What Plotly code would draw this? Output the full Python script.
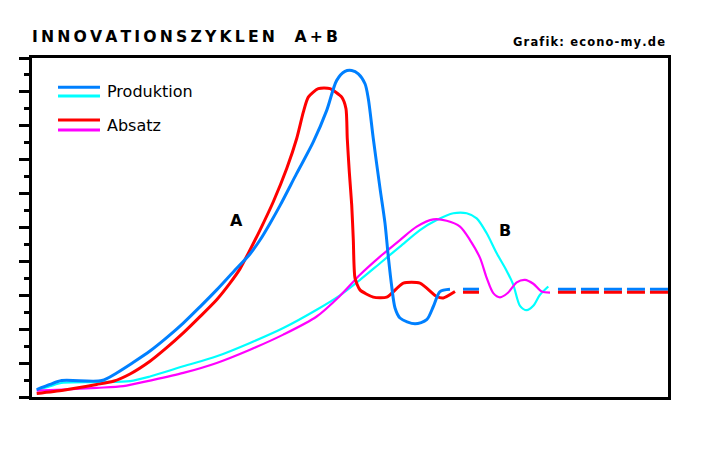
import plotly.graph_objects as go

# time axis 0..100, level axis 0..20
prod_a_t = [0.74, 2.83, 4.67, 10.96, 13.32, 15.88, 18.55, 21.18, 23.79, 26.41, 29.04, 31.65, 34.28,
            35.85, 37.42, 38.99, 41.62, 44.23, 46.34, 47.91, 49.21, 50.27, 51.31, 52.36, 52.88, 53.66,
            54.72, 55.5, 56.02, 56.56, 57.08, 57.86, 60.22, 62.06, 63.10, 64.15, 65.72]
prod_a_y = [0.44, 0.74, 0.97, 0.97, 1.42, 2.03, 2.71, 3.5, 4.36, 5.32, 6.32, 7.38, 8.44,
            9.26, 10.24, 11.29, 13.19, 15.05, 16.91, 18.68, 19.21, 19.26, 19.07, 18.48, 17.6, 15.25,
            12.31, 10.26, 8.28, 6.52, 5.25, 4.66, 4.32, 4.56, 5.34, 6.22, 6.36]

abs_a_t = [0.74, 4.92, 10.17, 12.78, 15.41, 18.55, 21.18, 23.79, 26.41, 29.04, 31.13, 32.70, 34.28,
           35.85, 37.94, 40.05, 41.62, 42.66, 43.44, 45.02, 46.86, 48.70, 49.37, 49.57, 49.89,
           50.27, 50.52, 50.79, 51.57, 53.66, 55.77, 58.38, 61.0, 63.63, 64.67, 66.51]
abs_a_y = [0.21, 0.4, 0.74, 0.93, 1.36, 2.11, 2.91, 3.78, 4.74, 5.74, 6.72, 7.56, 8.68,
           9.85, 11.52, 13.48, 15.25, 16.81, 17.69, 18.19, 18.19, 17.69, 17.01, 15.25, 13.28,
           11.32, 9.26, 7.01, 6.32, 5.89, 5.89, 6.72, 6.72, 5.93, 5.84, 6.22]

prod_b_t = [0.74, 2.83, 4.92, 10.69, 15.41, 18.55, 23.79, 29.04, 34.28, 39.51, 44.76, 48.43, 51.57,
            54.72, 57.86, 61.0, 63.63, 66.24, 68.35, 69.92, 71.49, 73.07, 74.64, 75.68, 76.73,
            77.78, 78.82, 79.87, 81.18]
prod_b_y = [0.4, 0.64, 0.84, 0.88, 0.94, 1.21, 1.81, 2.4, 3.19, 4.07, 5.15, 6.0, 6.91,
            7.89, 8.87, 9.85, 10.44, 10.84, 10.84, 10.54, 9.66, 8.48, 7.44, 6.62, 5.38,
            5.12, 5.38, 6.03, 6.52]

abs_b_t = [0.74, 4.92, 10.17, 14.35, 18.55, 23.79, 29.04, 34.28, 39.51, 44.76, 48.43, 51.57,
           54.72, 57.86, 60.49, 63.10, 65.20, 67.30, 68.87, 70.44, 71.49, 72.53, 73.58,
           74.84, 76.21, 77.52, 78.82, 80.14, 81.45]
abs_b_y = [0.38, 0.44, 0.54, 0.64, 0.97, 1.42, 2.01, 2.79, 3.68, 4.75, 5.97, 7.21,
           8.28, 9.26, 10.05, 10.48, 10.4, 10.05, 9.26, 8.21, 7.03, 6.13, 5.88,
           6.15, 6.76, 6.91, 6.68, 6.22, 6.16]

# steady-state (dashed) continuation
steady_t = [67.77, 70.28, None, 82.7, 100.0]
steady_prod = [6.36, 6.36, None, 6.36, 6.36]
steady_abs = [6.18, 6.18, None, 6.18, 6.18]

BLUE, CYAN, RED, MAGENTA = "#0080FF", "#00FFFF", "#FF0000", "#FF00FF"

fig = go.Figure()
sm = 0.8
fig.add_trace(go.Scatter(x=prod_b_t, y=prod_b_y, mode="lines",
                         line=dict(color=CYAN, width=2.2, shape="spline", smoothing=sm)))
fig.add_trace(go.Scatter(x=abs_b_t, y=abs_b_y, mode="lines",
                         line=dict(color=MAGENTA, width=2.2, shape="spline", smoothing=sm)))
fig.add_trace(go.Scatter(x=abs_a_t, y=abs_a_y, mode="lines",
                         line=dict(color=RED, width=3, shape="spline", smoothing=0.6)))
fig.add_trace(go.Scatter(x=prod_a_t, y=prod_a_y, mode="lines",
                         line=dict(color=BLUE, width=3, shape="spline", smoothing=sm)))
fig.add_trace(go.Scatter(x=steady_t, y=steady_prod, mode="lines",
                         line=dict(color=BLUE, width=3, dash="18px,5px")))
fig.add_trace(go.Scatter(x=steady_t, y=steady_abs, mode="lines",
                         line=dict(color=RED, width=3, dash="18px,5px")))

TS = "\u2009"
HS = "\u200a"
title_txt = TS.join("INNOVATIONSZYKLEN") + TS + "   " + TS.join("A+B")
credit_txt = HS.join("Grafik: econo-my.de")

ann = [
    dict(text=title_txt, xref="paper", yref="paper", x=-2 / 636, y=1.0648, xanchor="left", yanchor="middle",
         showarrow=False, font=dict(family="DejaVu Sans", size=15.7, color="black", weight="bold")),
    dict(text=credit_txt, xref="paper", yref="paper", x=(667 - 32) / 636, y=(397.5 - 42) / 339.5,
         xanchor="right", yanchor="middle", showarrow=False,
         font=dict(family="DejaVu Sans", size=11.5, color="black", weight="bold")),
    dict(text="Produktion", xref="paper", yref="paper", x=73 / 636, y=0.9008, xanchor="left", yanchor="middle",
         showarrow=False, font=dict(family="DejaVu Sans", size=16, color="black")),
    dict(text="Absatz", xref="paper", yref="paper", x=73 / 636, y=0.8006, xanchor="left", yanchor="middle",
         showarrow=False, font=dict(family="DejaVu Sans", size=16, color="black")),
    dict(text="A", x=32.15, y=10.41, xanchor="center", yanchor="middle", showarrow=False,
         font=dict(family="DejaVu Sans", size=16, color="black", weight="bold")),
    dict(text="B", x=74.42, y=9.84, xanchor="center", yanchor="middle", showarrow=False,
         font=dict(family="DejaVu Sans", size=16, color="black", weight="bold")),
]

shapes = []
for yy, col in [(0.9137, BLUE), (0.8881, CYAN), (0.8174, RED), (0.7879, MAGENTA)]:
    shapes.append(dict(type="line", xref="paper", yref="paper", x0=0.0409, x1=0.1069, y0=yy, y1=yy,
                       line=dict(color=col, width=3)))

fig.update_layout(
    width=705, height=471,
    margin=dict(l=32, r=37, t=58, b=74),
    paper_bgcolor="white", plot_bgcolor="white",
    showlegend=False,
    annotations=ann, shapes=shapes,
    xaxis=dict(range=[0, 100], showgrid=False, zeroline=False, showline=True, mirror=True,
               linecolor="black", linewidth=3, ticks="", showticklabels=False, fixedrange=True),
    yaxis=dict(range=[0, 20], showgrid=False, zeroline=False, showline=True, mirror=True,
               linecolor="black", linewidth=3, ticks="outside", ticklen=10, tickwidth=3,
               tickcolor="black", tick0=0, dtick=2, showticklabels=False,
               minor=dict(ticks="outside", ticklen=5, tickwidth=3, tickcolor="black", dtick=1, showgrid=False),
               fixedrange=True),
)

fig.write_html("out.html", config={"displayModeBar": False},
               post_script="document.body.style.margin='0px';document.body.style.overflow='hidden';")
